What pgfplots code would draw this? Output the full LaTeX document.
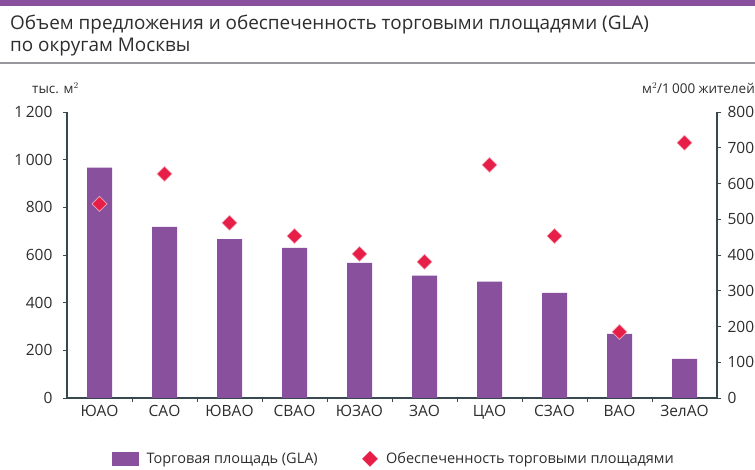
\documentclass[border=0pt]{standalone}
\usepackage{pgfplots}
\pgfplotsset{compat=1.18}
\usepackage{fontspec}
\setmainfont{Open Sans}
\definecolor{barpurple}{RGB}{137,80,158}
\definecolor{diamred}{RGB}{230,30,72}
\definecolor{axiscol}{RGB}{55,72,78}
\definecolor{txt}{RGB}{45,45,45}
\definecolor{rulegray}{RGB}{150,150,158}
\pgfplotsset{diamlegend/.style={legend image code/.code={\draw[only marks, mark=square*, mark size=5.3pt, mark options={rotate=45, fill=diamred, draw=diamred}] plot coordinates {(8pt,0pt)}; \path (0pt,0pt) (22pt,0pt);}}}
\begin{document}
\begin{tikzpicture}[x=1pt,y=1pt]
\path[use as bounding box] (0,0) rectangle (755,470);
\fill[barpurple] (0,464) rectangle (755,470);
\node[anchor=base west, inner sep=0, text=txt, font=\fontsize{18.9}{22}\selectfont] at (10,440) {Объем предложения и обеспеченность торговыми площадями (GLA)};
\node[anchor=base west, inner sep=0, text=txt, font=\fontsize{18.9}{22}\selectfont] at (10,418) {по округам Москвы};
\draw[rulegray, line width=1.6pt] (0,407) -- (755,407);
\node[anchor=base west, inner sep=0, text=txt, font=\fontsize{13.5}{15}\selectfont] at (32,376) {тыс. м$^2$};
\node[anchor=base east, inner sep=0, text=txt, font=\fontsize{13.5}{15}\selectfont] at (755,376) {м$^2$/1\,000 жителей};

\begin{axis}[
  at={(67pt,72pt)}, anchor=south west, scale only axis,
  width=650pt, height=286pt,
  xmin=-0.5, xmax=9.5, ymin=0, ymax=1200,
  axis y line*=left, axis x line*=bottom,
  axis line style={axiscol, line width=1.1pt},
  every tick/.style={axiscol, line width=0.8pt},
  tick align=outside, major tick length=4pt,
  xtick={0.5,1.5,...,8.5}, xticklabels={},
  extra x ticks={0,1,...,9},
  extra x tick labels={ЮАО,САО,ЮВАО,СВАО,ЮЗАО,ЗАО,ЦАО,СЗАО,ВАО,ЗелАО},
  extra x tick style={major tick length=0pt, tick label style={yshift=-4pt, font=\fontsize{15.5}{17}\selectfont}},
  ytick={0,200,...,1200},
  /pgf/number format/assume math mode=true,
  /pgf/number format/1000 sep={\,},
  tick label style={font=\fontsize{15.5}{17}\selectfont, text=txt},
  yticklabel style={xshift=-7pt},
  clip=false,
]
\addplot[ybar, bar width=25pt, fill=barpurple, draw=none] coordinates {
(0,967) (1,718) (2,667) (3,630) (4,567) (5,513) (6,488) (7,441) (8,269) (9,164)};
\end{axis}

\begin{axis}[
  at={(67pt,72pt)}, anchor=south west, scale only axis,
  width=650pt, height=286pt,
  xmin=-0.5, xmax=9.5, ymin=0, ymax=800,
  axis y line*=right, axis x line=none,
  axis line style={axiscol, line width=1.1pt},
  every tick/.style={axiscol, line width=0.8pt},
  tick align=outside, major tick length=4pt,
  ytick={0,100,...,800},
  /pgf/number format/assume math mode=true,
  tick label style={font=\fontsize{15.5}{17}\selectfont, text=txt},
  yticklabel style={xshift=3pt},
  clip=false,
  legend columns=2,
  legend style={draw=none, fill=none, inner sep=0pt, at={(0.0692,-0.213)}, anchor=west,
    font=\fontsize{14.5}{16}\selectfont, text=txt,
    /tikz/every even column/.append style={column sep=42pt}},
]
\addlegendimage{legend image code/.code={\fill[barpurple] (0pt,-6.5pt) rectangle (26pt,6.5pt); \path (32pt,0pt);}}
\addlegendentry{Торговая площадь (GLA)}
\addplot[only marks, mark=square*, mark size=5.3pt, mark options={rotate=45, fill=diamred, draw=diamred!40!white, line width=0.6pt},
  diamlegend] coordinates {
(0,543) (1,627) (2,490) (3,453) (4,403) (5,381) (6,652) (7,453) (8,185) (9,714)};
\addlegendentry{Обеспеченность торговыми площадями}
\end{axis}
\end{tikzpicture}
\end{document}
